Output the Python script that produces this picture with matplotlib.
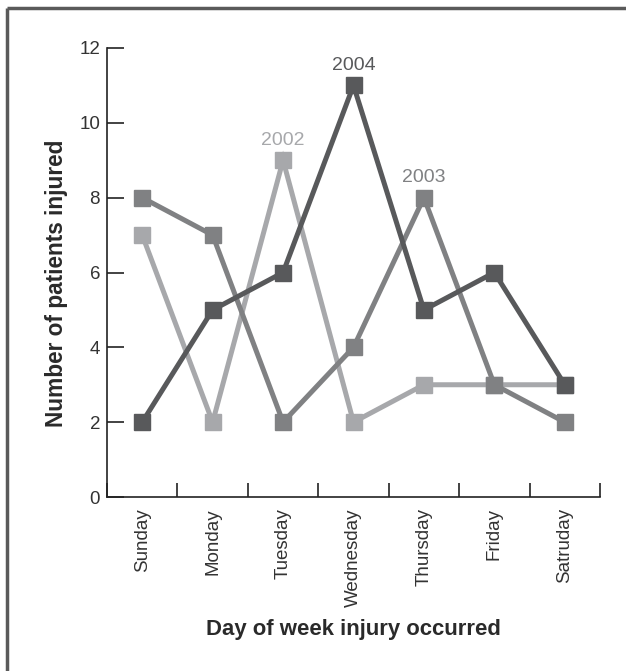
import numpy as np
import matplotlib
matplotlib.use("Agg")
import matplotlib.pyplot as plt
from matplotlib.lines import Line2D

plt.rcParams["font.family"] = ["Liberation Sans", "DejaVu Sans"]

days = ["Sunday", "Monday", "Tuesday", "Wednesday", "Thursday", "Friday", "Satruday"]
y2002 = [7, 2, 9, 2, 3, 3, 3]
y2003 = [8, 7, 2, 4, 8, 3, 2]
y2004 = [2, 5, 6, 11, 5, 6, 3]

series = [  # (label, values, colour, index of labelled point)
    ("2002", y2002, "#a7a8ab", 2),
    ("2003", y2003, "#808183", 4),
    ("2004", y2004, "#58595b", 3),
]

W, H = 626, 671
fig = plt.figure(figsize=(W / 100, H / 100), dpi=100)
ax = fig.add_axes([107 / W, 1 - 497 / H, (600 - 107) / W, (497 - 48) / H])

x = np.arange(len(days))
for name, vals, col, k in series:
    ax.plot(x, vals, color=col, lw=3.6, marker="s", ms=12, mec=col, mfc=col,
            solid_joinstyle="miter", zorder=3)
    ax.annotate(name, (x[k], vals[k]), xytext=(0, 11), textcoords="offset points",
                ha="center", va="baseline", fontsize=14, color=col)

ax.set_xlim(-0.5, len(days) - 0.5)
ax.set_ylim(0, 12)
ax.set_yticks(range(0, 13, 2))
ax.set_xticks(np.arange(-0.5, len(days)))
ax.set_xticklabels([])
ax.set_xticks(x, minor=True)
ax.set_xticklabels(days, minor=True, rotation=90, fontsize=13.5, color="#333333")
ax.tick_params(axis="x", which="major", direction="in", length=10, width=1.2, color="#222222")
ax.tick_params(axis="x", which="minor", length=0, pad=8)
ax.tick_params(axis="y", direction="in", length=12, width=1.2, color="#222222",
               labelsize=13.5, labelcolor="#333333", pad=5)
for s in ("top", "right"):
    ax.spines[s].set_visible(False)
for s in ("left", "bottom"):
    ax.spines[s].set_linewidth(1.2)
    ax.spines[s].set_color("#222222")

ax.set_ylabel("Number of patients injured", fontsize=16.3, fontweight="bold",
              color="#2a2a2a", va="center")
ax.yaxis.set_label_coords(-0.103, 0.477)
ax.set_xlabel("Day of week injury occurred", fontsize=15.9, fontweight="bold",
              color="#2a2a2a", va="center")
ax.xaxis.set_label_coords(0.5, -0.296)

# frame: only the top and left edges fall inside the picture
fig.add_artist(Line2D([7 / W, 7 / W], [0, 1 - 8 / H], transform=fig.transFigure,
                      color="#5a5a5a", lw=2.5, solid_capstyle="butt"))
fig.add_artist(Line2D([7 / W, 1], [1 - 8 / H, 1 - 8 / H], transform=fig.transFigure,
                      color="#5a5a5a", lw=2.5, solid_capstyle="butt"))

fig.savefig("out.png", dpi=100)
